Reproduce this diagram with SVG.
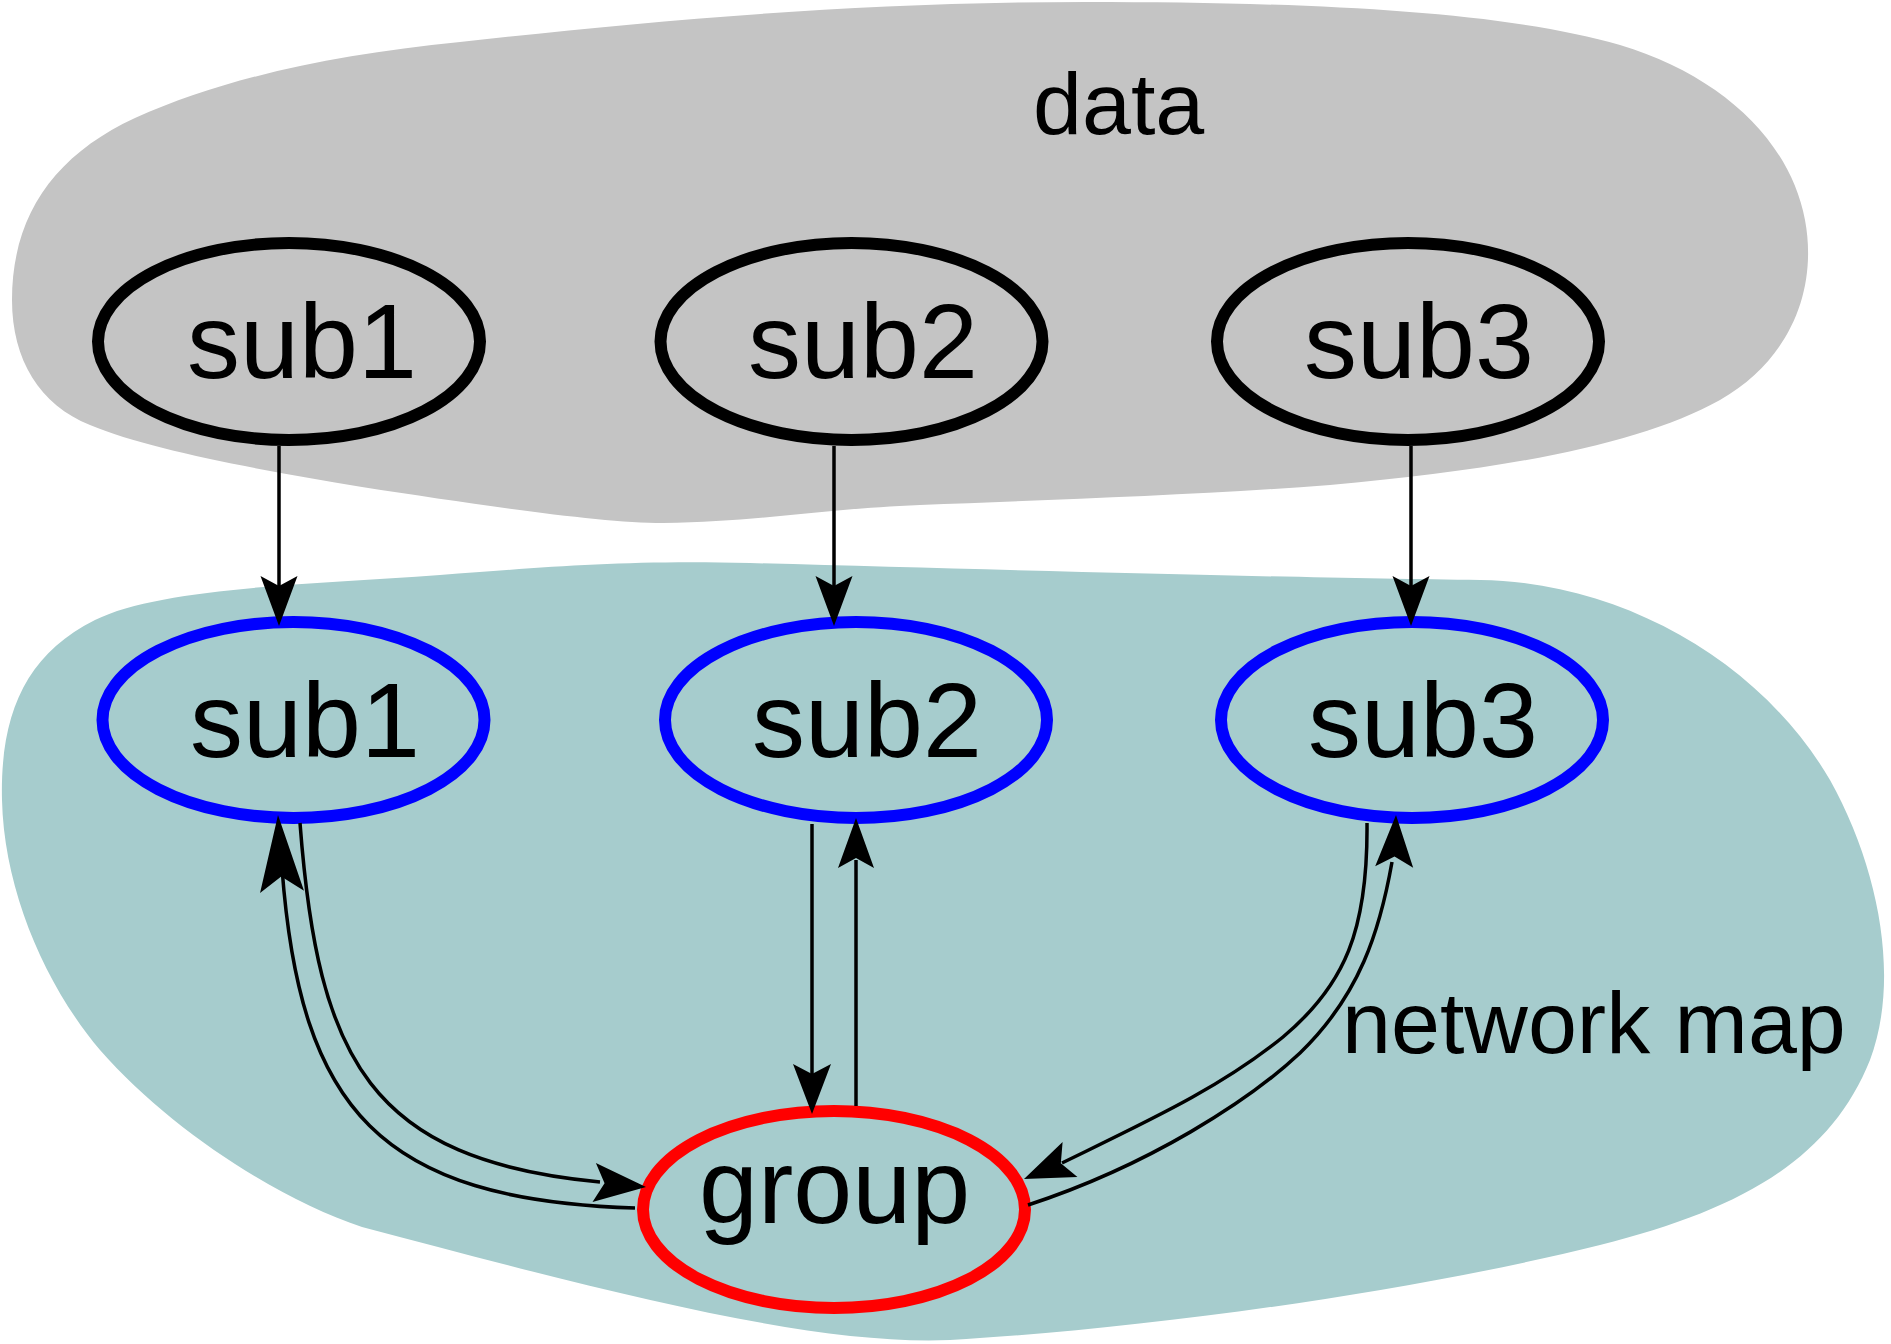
<svg xmlns="http://www.w3.org/2000/svg" xmlns:xlink="http://www.w3.org/1999/xlink" width="1891" height="1344" viewBox="0 0 1891 1344">
<style>
.lbl{font-family:"Liberation Sans",Arial,Helvetica,sans-serif;fill:#000}
.node text{font-size:106px}
.cl text{font-size:88px}
.topn{fill:none;stroke:#000;stroke-width:12}
.midn{fill:none;stroke:#0000ff;stroke-width:12}
.grp{fill:none;stroke:#ff0000;stroke-width:12}
.edge{fill:none;stroke:#000;stroke-width:3.5}
.ah{fill:#000;stroke:none}
</style>
<defs>
<path id="ah" d="M0,0 L-1,-0.5 L-0.8,0 L-1,0.5 Z"/>
</defs>
<g id="clusters" class="cl">
<g id="cluster_data">
<path fill="#c4c4c4" d="M12,300 C12,215 55,155 135,118 C225,78 330,55 460,42 C640,22 850,2 1086,2 C1300,2 1500,10 1620,45 C1720,75 1790,140 1805,220 C1818,290 1790,360 1720,400 C1640,445 1500,470 1330,485 C1200,495 1050,500 920,505 C820,509 760,522 663,523 C600,523 480,505 362,487 C260,470 150,450 90,425 C40,405 12,360 12,300 Z"/>
<text class="lbl" x="1033" y="134">data</text>
</g>
<g id="cluster_network">
<path fill="#a6cccd" d="M2,800 C0,715 25,655 95,620 C160,588 300,585 440,575 C550,567 620,560 750,563 C1000,570 1300,578 1480,580 C1620,582 1760,660 1830,780 C1880,870 1900,980 1870,1060 C1830,1160 1740,1210 1600,1245 C1400,1295 1130,1330 950,1340 C810,1346 600,1290 362,1227 C280,1200 170,1130 100,1050 C45,985 4,890 2,800 Z"/>
<text class="lbl" x="1342" y="1053">network map</text>
</g>
</g>
<g id="data_sub1" class="node"><ellipse class="topn" cx="289" cy="341.5" rx="191" ry="98.5"/><text class="lbl" x="187" y="378">sub1</text></g>
<g id="data_sub2" class="node"><ellipse class="topn" cx="851.5" cy="341.5" rx="191" ry="98.5"/><text class="lbl" x="748" y="378">sub2</text></g>
<g id="data_sub3" class="node"><ellipse class="topn" cx="1408" cy="341.5" rx="191" ry="98.5"/><text class="lbl" x="1304" y="378">sub3</text></g>
<g id="net_sub1" class="node"><ellipse class="midn" cx="293.5" cy="720" rx="191" ry="98"/><text class="lbl" x="190" y="757">sub1</text></g>
<g id="net_sub2" class="node"><ellipse class="midn" cx="856" cy="720" rx="191" ry="98"/><text class="lbl" x="752" y="757">sub2</text></g>
<g id="net_sub3" class="node"><ellipse class="midn" cx="1412" cy="720" rx="191" ry="98"/><text class="lbl" x="1308" y="757">sub3</text></g>
<g id="group" class="node"><ellipse class="grp" cx="834" cy="1209.5" rx="191" ry="98.5"/><text class="lbl" x="699" y="1223">group</text></g>
<g id="connectors">
<path class="edge" d="M279,446 L279,590"/>
<use href="#ah" class="ah" transform="translate(279,626) rotate(90) scale(50,37)"/>
<path class="edge" d="M834,446 L834,590"/>
<use href="#ah" class="ah" transform="translate(834,626) rotate(90) scale(50,37)"/>
<path class="edge" d="M1411,446 L1411,590"/>
<use href="#ah" class="ah" transform="translate(1411,626) rotate(90) scale(50,37)"/>
<path class="edge" d="M300,823 C318,1060 370,1160 600,1182"/>
<use href="#ah" class="ah" transform="translate(646,1187) rotate(5) scale(52,39)"/>
<path class="edge" d="M635,1208 C380,1200 300,1110 282,868"/>
<use href="#ah" class="ah" transform="translate(278,815) rotate(-93) scale(77,44)"/>
<path class="edge" d="M812,824 L812,1080"/>
<use href="#ah" class="ah" transform="translate(812,1114) rotate(90) scale(50,38)"/>
<path class="edge" d="M856,1106 L856,860"/>
<use href="#ah" class="ah" transform="translate(856,818) rotate(-90) scale(50,36)"/>
<path class="edge" d="M1367,823 C1368,930 1345,985 1283,1037 C1220,1088 1150,1120 1062,1163"/>
<use href="#ah" class="ah" transform="translate(1024,1179) rotate(157) scale(50,38)"/>
<path class="edge" d="M1028,1205 C1150,1165 1250,1100 1300,1053 C1360,995 1380,930 1392,862"/>
<use href="#ah" class="ah" transform="translate(1396,815) rotate(-88) scale(52,38)"/>
</g>
</svg>
